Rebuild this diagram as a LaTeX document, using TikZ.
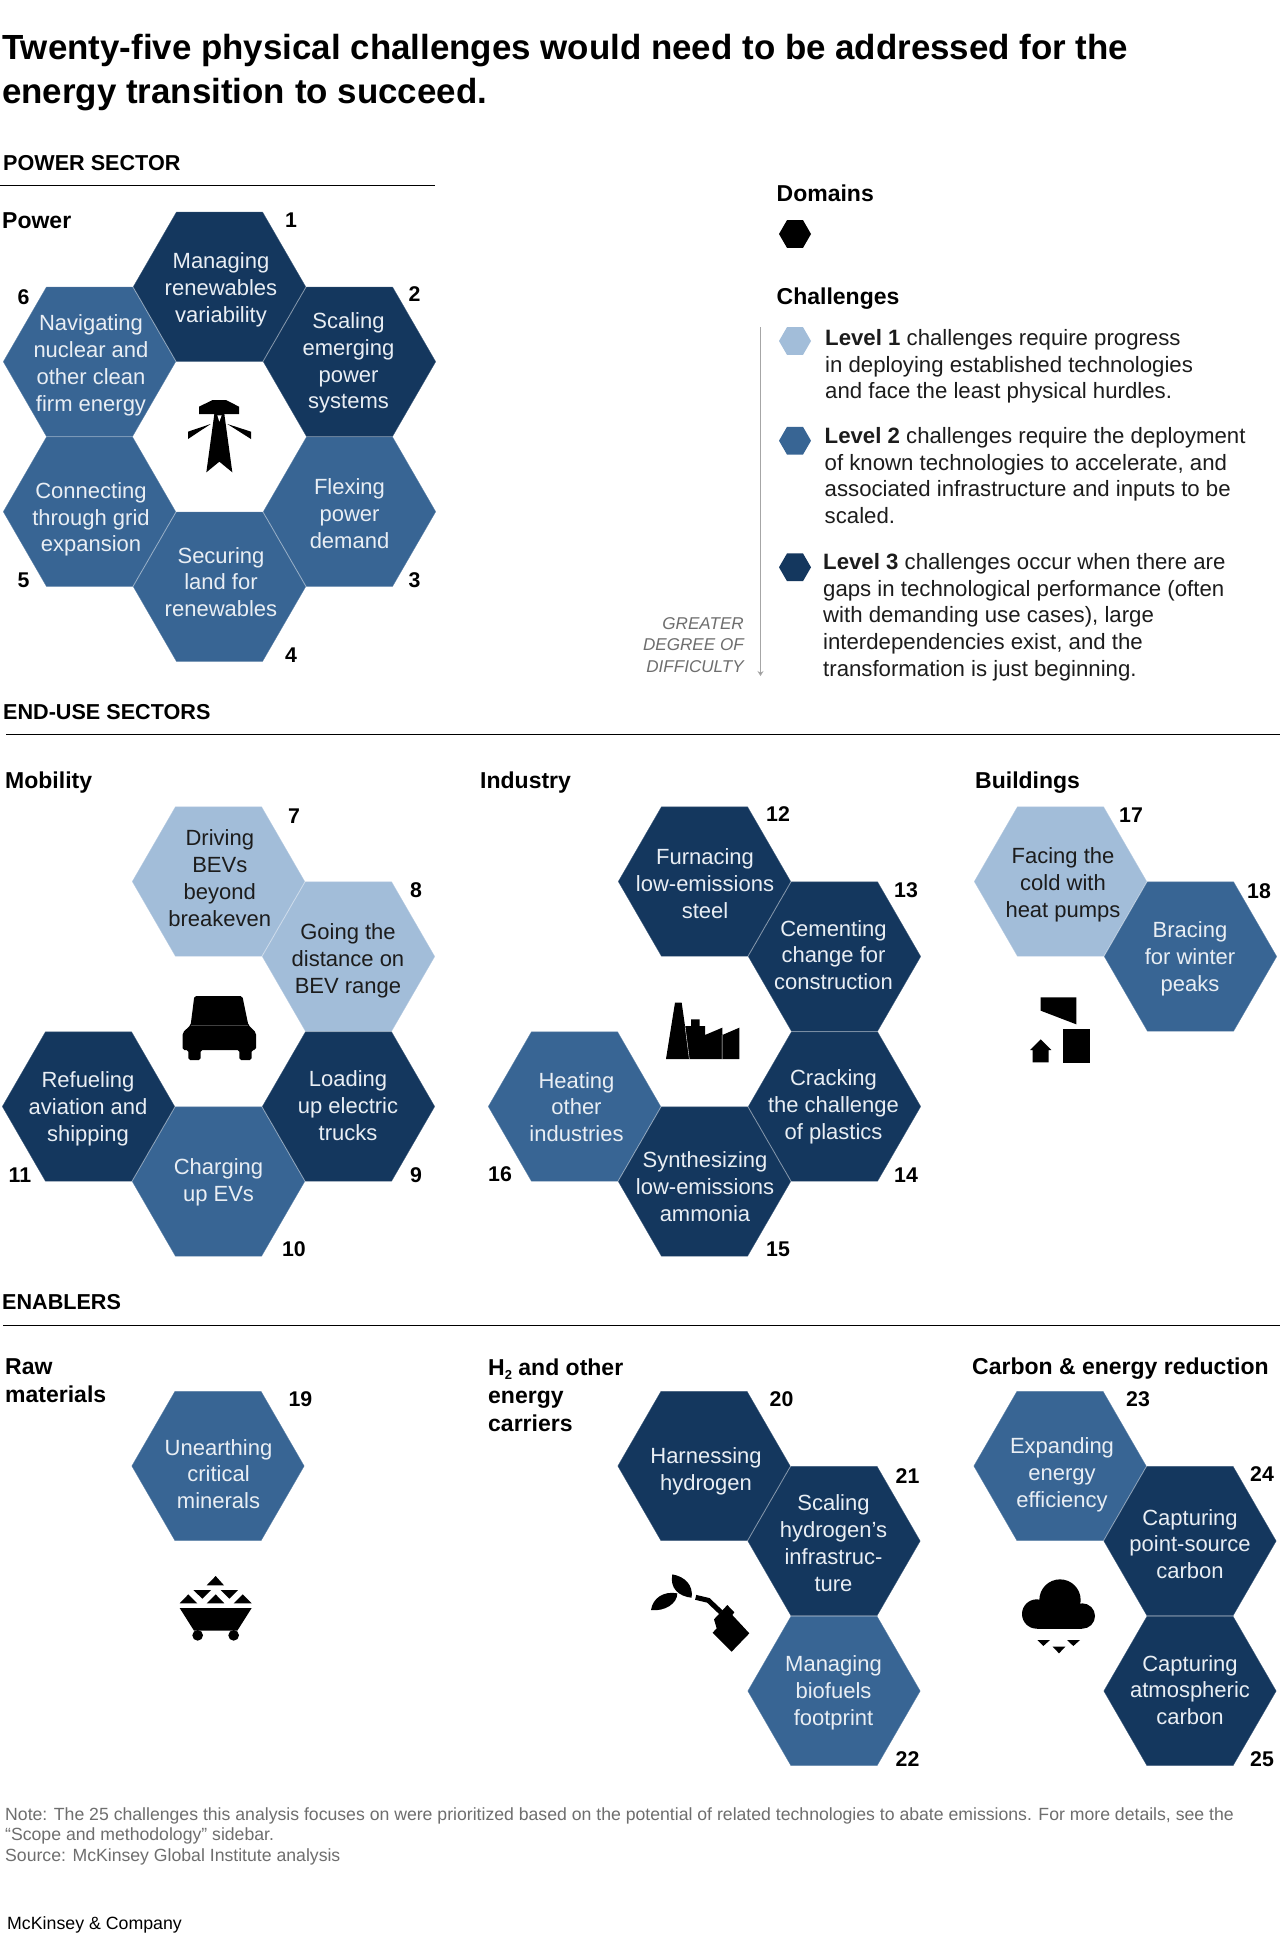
\documentclass[tikz,border=0pt]{standalone}
\usepackage{fontspec}
\setmainfont{Liberation Sans}
\usetikzlibrary{shapes.geometric,arrows.meta}
\definecolor{hexdark}{HTML}{14375E}
\definecolor{hexmid}{HTML}{386594}
\definecolor{hexlight}{HTML}{A2BDD9}
\definecolor{hexink}{HTML}{E9EEF4}
\definecolor{bodyink}{HTML}{1C1C1C}
\definecolor{noteink}{HTML}{6E6E6E}
\tikzset{
  cell/.style={regular polygon,regular polygon sides=6,inner sep=0pt,outer sep=0pt,minimum size=172.4pt,line width=.3pt},
  lvlone/.style={cell,fill=hexlight,draw=hexlight!80!white},
  lvltwo/.style={cell,fill=hexmid,draw=hexmid!80!white},
  lvlthree/.style={cell,fill=hexdark,draw=hexdark!80!white},
  celltext/.style={align=center,text=hexink,inner sep=0pt,font=\fontsize{22}{26.8}\selectfont},
  darktext/.style={text=bodyink},
  numtext/.style={inner sep=0pt,text=black,font=\fontsize{21.3}{24}\selectfont\bfseries},
  headtext/.style={anchor=west,align=left,inner sep=0pt,text=black,font=\fontsize{23}{28}\selectfont\bfseries},
  sectext/.style={anchor=west,inner sep=0pt,text=black,font=\fontsize{21.6}{26}\selectfont\bfseries},
  rule/.style={draw=black,line width=.9pt},
  legendtext/.style={anchor=north west,align=left,inner sep=0pt,text=bodyink,font=\fontsize{22.2}{26.8}\selectfont},
  legendhex/.style={regular polygon,regular polygon sides=6,inner sep=0pt,outer sep=0pt,minimum size=32pt},
  icon/.style={fill=black,draw=none},
}
\newcommand{\cellcombo}[7][]{%
  \node[#3] (h#2) at (#4) {};
  \node[celltext,#1] (t#2) at (#5) {#6};
  \node[numtext] (n#2) at (#7) {#2};
}
\begin{document}
\begin{tikzpicture}[x=1pt,y=-1pt]
\useasboundingbox[fill=white] (0,0) rectangle (1280,1936);

% Title
\node[anchor=north west,align=left,inner sep=0pt,text=black,font=\fontsize{34.9}{44}\selectfont\bfseries] (title) at (2,34) {Twenty-five physical challenges would need to be addressed for the\\energy transition to succeed.};

% Section headers
\node[sectext] (secpower) at (3,163.5) {POWER SECTOR};
\coordinate (r1a) at (0,185); \coordinate (r1b) at (435,185);
\draw[rule] (r1a) -- (r1b);
\node[sectext] (secend) at (3,712.5) {END-USE SECTORS};
\coordinate (r2a) at (6,734.5); \coordinate (r2b) at (1280,734.5);
\draw[rule] (r2a) -- (r2b);
\node[sectext] (secen) at (2,1302.5) {ENABLERS};
\coordinate (r3a) at (3,1325); \coordinate (r3b) at (1280,1325);
\draw[rule] (r3a) -- (r3b);

% Domain labels
\node[headtext] (dpower) at (2,221) {Power};
\node[headtext] (dmob) at (5,783) {Mobility};
\node[headtext] (dind) at (480,783) {Industry};
\node[headtext] (dbui) at (975,783) {Buildings};
\node[headtext] (draw) at (5,1381) {Raw\\materials};
\node[headtext] (dhy) at (488,1395) {H\raisebox{-4pt}{\fontsize{13}{13}\selectfont 2} and other\\energy\\carriers};
\node[headtext] (dcar) at (972,1368.5) {Carbon \& energy reduction};

% Power
\cellcombo{1}{lvlthree}{219.5,286.7}{221,290}{Managing\\renewables\\variability}{291,220}
\cellcombo{2}{lvlthree}{349.5,361.7}{348.5,363}{Scaling\\emerging\\power\\systems}{414.5,294}
\cellcombo{3}{lvltwo}{349.5,511.7}{349.5,513.5}{Flexing\\power\\demand}{414.5,580}
\cellcombo{4}{lvltwo}{219.5,586.7}{221,582}{Securing\\land for\\renewables}{291,655}
\cellcombo{5}{lvltwo}{89.5,511.7}{91,519.5}{Connecting\\through grid\\expansion}{23.5,580}
\cellcombo{6}{lvltwo}{89.5,361.7}{91,365.5}{\fontsize{22}{25.4}\selectfont Navigating\\nuclear and\\other clean\\firm energy}{23.5,297}

% Mobility
\cellcombo[darktext]{7}{lvlone}{218.5,881.5}{219.8,878}{Driving\\BEVs\\beyond\\breakeven}{294,816.5}
\cellcombo[darktext]{8}{lvlone}{348.5,956.5}{348,961}{Going the\\distance on\\BEV range}{416,890.5}
\cellcombo{9}{lvlthree}{348.5,1106.5}{348,1105.5}{Loading\\up electric\\trucks}{416,1175}
\cellcombo{10}{lvltwo}{218.5,1181.5}{218.5,1182}{Charging\\up EVs}{294,1249}
\cellcombo{11}{lvlthree}{88.5,1106.5}{88,1109}{Refueling\\aviation and\\shipping}{20,1175}

% Industry
\cellcombo{12}{lvlthree}{704.5,881.5}{705,883.5}{Furnacing\\low-emissions\\steel}{778,814}
\cellcombo{13}{lvlthree}{834.5,956.5}{833.5,955}{Cementing\\change for\\construction}{906,890.5}
\cellcombo{14}{lvlthree}{834.5,1106.5}{833.5,1107}{Cracking\\the challenge\\of plastics}{906,1175}
\cellcombo{15}{lvlthree}{704.5,1181.5}{705,1186.5}{Synthesizing\\low-emissions\\ammonia}{778,1249.5}
\cellcombo{16}{lvltwo}{574.5,1106.5}{576.5,1107}{Heating\\other\\industries}{500,1174}

% Buildings
\cellcombo[darktext]{17}{lvlone}{1060.5,881.5}{1063,884.5}{Facing the\\cold with\\heat pumps}{1131,815}
\cellcombo{18}{lvltwo}{1190.5,956.5}{1190,959}{Bracing\\for winter\\peaks}{1259,891}

% Raw materials
\cellcombo{19}{lvltwo}{218,1466}{218.5,1474}{Unearthing\\critical\\minerals}{300.5,1399}

% H2
\cellcombo{20}{lvlthree}{704,1466}{706,1471}{Harnessing\\hydrogen}{781.5,1399}
\cellcombo{21}{lvlthree}{834,1541}{833.5,1543}{Scaling\\hydrogen’s\\infrastruc-\\ture}{907.5,1476.5}
\cellcombo{22}{lvltwo}{834,1691}{833.5,1693}{Managing\\biofuels\\footprint}{907.5,1759}

% Carbon
\cellcombo{23}{lvltwo}{1060,1466}{1062,1475}{Expanding\\energy\\efficiency}{1138,1399}
\cellcombo{24}{lvlthree}{1190,1541}{1190,1544}{Capturing\\point-source\\carbon}{1262,1474}
\cellcombo{25}{lvlthree}{1190,1691}{1190,1690}{Capturing\\atmospheric\\carbon}{1262,1759}

% Legend
\node[headtext] (ldom) at (776.5,193.5) {Domains};
\node[legendhex,fill=black] (lhb) at (795,234) {};
\node[headtext] (lcha) at (776.5,298.5) {Challenges};
\node[legendhex,fill=hexlight] (lh1) at (795,341) {};
\node[legendhex,fill=hexmid] (lh2) at (795,440.7) {};
\node[legendhex,fill=hexdark] (lh3) at (795,567.3) {};
\coordinate (arrA) at (760.5,327); \coordinate (arrB) at (760.5,676);
\draw[draw=black!35,line width=.8pt,-{Stealth[length=5pt,width=6pt,fill=black!60]}] (arrA) -- (arrB);
\node[anchor=east,align=right,inner sep=0pt,text=noteink,font=\fontsize{17.1}{21.4}\selectfont\itshape] (diff) at (744,645) {GREATER\\DEGREE OF\\DIFFICULTY};
\node[legendtext] (l1) at (825,329) {\textbf{Level 1} challenges require progress\\in deploying established technologies\\and face the least physical hurdles.};
\node[legendtext] (l2) at (824.5,427) {\textbf{Level 2} challenges require the deployment\\of known technologies to accelerate, and\\associated infrastructure and inputs to be\\scaled.};
\node[legendtext] (l3) at (823,553) {\textbf{Level 3} challenges occur when there are\\gaps in technological performance (often\\with demanding use cases), large\\interdependencies exist, and the\\transformation is just beginning.};

% Notes
\node[anchor=north west,align=left,inner sep=0pt,text=noteink,font=\fontsize{17.65}{20.6}\selectfont] (note) at (5,1807) {Note: The 25 challenges this analysis focuses on were prioritized based on the potential of related technologies to abate emissions. For more details, see the\\“Scope and methodology” sidebar.\\Source: McKinsey Global Institute analysis};
\node[anchor=west,inner sep=0pt,text=black,font=\fontsize{17.75}{20}\selectfont] (brand) at (7,1924.5) {McKinsey \& Company};

% Icons: power pylon
\begin{scope}[shift={(170,390)},scale=.33333]
\fill[icon] (128,30) -- (168,30) -- (207,50) -- (207,72) -- (163,72) -- (187,247) -- (148,215) -- (109,247) -- (133,72) -- (87,72) -- (87,50) -- cycle;
\fill[white] (142,76) -- (155,76) -- (148,95) -- cycle;
\fill[icon] (122,102) -- (54,125) -- (54,147) -- cycle;
\fill[icon] (172,102) -- (243,125) -- (243,147) -- cycle;
\end{scope}

% Car
\begin{scope}[shift={(160,980)},scale=.33333]
\fill[icon,rounded corners=1.8pt] (103,48) -- (247,48) -- (265,135) -- (288,158) -- (288,210) -- (275,210) -- (275,240) -- (238,240) -- (238,210) -- (122,210) -- (122,240) -- (85,240) -- (85,210) -- (68,210) -- (68,158) -- (92,135) -- cycle;
\draw[black!75!white,line width=.3pt] (92,135) -- (265,135);
\end{scope}

% Factory
\begin{scope}[shift={(650,990)},scale=.33333]
\fill[icon] (75,38) -- (95,38) -- (105,108) -- (123,108) -- (123,88) -- (149,88) -- (149,108) -- (165,108) -- (165,135) -- (217,113) -- (217,135) -- (268,113) -- (268,207) -- (48,207) -- cycle;
\draw[white,line width=.4pt] (105,108) -- (118,207) (216.5,135) -- (216.5,207);
\end{scope}

% Buildings icon
\begin{scope}[shift={(1010,980)},scale=.33333]
\fill[icon] (92,52) -- (199,52) -- (199,133) -- (92,92) -- cycle;
\fill[icon] (158,146) rectangle (240,248);
\fill[icon] (92,178) -- (124,210) -- (116,210) -- (116,247) -- (68,247) -- (68,210) -- (60,210) -- cycle;
\end{scope}

% Mine cart
\begin{scope}[shift={(160,1560)},scale=.33333]
\fill[icon] (167,48) -- (140,76) -- (192,76) -- cycle;
\fill[icon] (100,90) -- (153,90) -- (127,116) -- cycle;
\fill[icon] (182,90) -- (234,90) -- (208,116) -- cycle;
\fill[icon] (85,103) -- (59,130) -- (112,130) -- cycle;
\fill[icon] (167,103) -- (140,130) -- (193,130) -- cycle;
\fill[icon] (248,103) -- (221,130) -- (275,130) -- cycle;
\fill[icon] (59,144) -- (275,144) -- (232,212) -- (102,212) -- cycle;
\fill[icon] (113,226) circle[radius=16];
\fill[icon] (221,226) circle[radius=16];
\end{scope}

% Leaf and fuel can
\begin{scope}[shift={(640,1560)},scale=.33333]
\fill[icon] (97,43) .. controls (135,50) and (160,75) .. (155,113) .. controls (118,110) and (88,85) .. cycle;
\fill[icon] (112,100) .. controls (112,130) and (75,155) .. (33,150) .. controls (38,115) and (70,92) .. cycle;
\draw[black,line width=5pt] (167,112) -- (205,121) -- (243,157);
\fill[icon] (262,135) -- (283,157) -- (277,165) -- (328,220) -- (275,275) -- (218,218) -- (230,205) -- (222,178) -- cycle;
\end{scope}

% Cloud
\begin{scope}[shift={(1010,1560)},scale=.33333]
\fill[icon] (80,162) circle[radius=44];
\fill[icon] (217,168) circle[radius=38];
\fill[icon] (150,120) circle[radius=62];
\fill[icon] (80,150) rectangle (217,206);
\fill[icon] (82,240) -- (120,240) -- (100,258) -- cycle;
\fill[icon] (128,260) -- (166,260) -- (147,280) -- cycle;
\fill[icon] (171,240) -- (210,240) -- (190,258) -- cycle;
\end{scope}
\end{tikzpicture}
\end{document}
